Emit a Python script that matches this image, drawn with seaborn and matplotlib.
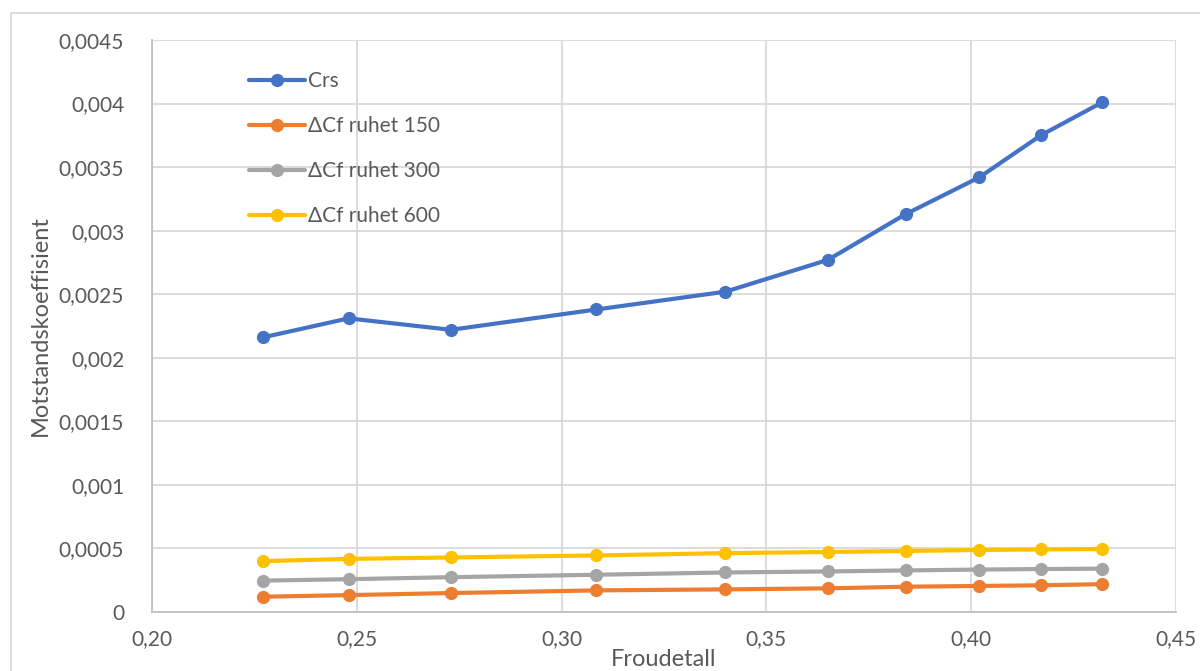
import matplotlib
matplotlib.use("Agg")
import matplotlib.pyplot as plt
from matplotlib.patches import Rectangle
from matplotlib.ticker import FuncFormatter, MultipleLocator
import seaborn as sns
import pandas as pd

# Froude numbers of the test runs
froude = [0.227, 0.248, 0.273, 0.3085, 0.340, 0.365, 0.384, 0.402, 0.417, 0.432]

# Residual resistance coefficient
crs = [0.00216, 0.00231, 0.00222, 0.00238, 0.00252, 0.00277, 0.00313, 0.00342, 0.00375, 0.00401]
# Roughness allowance for three roughness levels
dcf_150 = [0.000120, 0.000133, 0.000149, 0.000170, 0.000178, 0.000186, 0.000199, 0.000205, 0.000210, 0.000219]
dcf_300 = [0.000247, 0.000258, 0.000274, 0.000293, 0.000311, 0.000319, 0.000327, 0.000334, 0.000338, 0.000341]
dcf_600 = [0.000400, 0.000418, 0.000429, 0.000445, 0.000463, 0.000472, 0.000480, 0.000488, 0.000492, 0.000495]

series_names = ["Crs", "ΔCf ruhet 150", "ΔCf ruhet 300", "ΔCf ruhet 600"]
series_values = [crs, dcf_150, dcf_300, dcf_600]
colors = ["#4472C4", "#ED7D31", "#A5A5A5", "#FFC000"]

x_label = "Froudetall"
y_label = "Motstandskoeffisient"

rows = []
for name, vals in zip(series_names, series_values):
    for fr, v in zip(froude, vals):
        rows.append({"Froude": fr, "verdi": v, "serie": name})
df = pd.DataFrame(rows)

sns.set_theme(style="white")
plt.rcParams["font.family"] = ["Lato", "DejaVu Sans"]

fig = plt.figure(figsize=(12, 6.71), dpi=100)
ax = fig.add_axes([152 / 1200, 1 - 612 / 671, (1176 - 152) / 1200, (612 - 40) / 671])

sns.lineplot(
    data=df, x="Froude", y="verdi", hue="serie",
    hue_order=series_names, palette=dict(zip(series_names, colors)),
    marker="o", markersize=9.5, markeredgewidth=0, linewidth=3,
    sort=False, legend=False, ax=ax, zorder=3,
)

ax.set_xlim(0.20, 0.45)
ax.set_ylim(0, 0.0045)
ax.xaxis.set_major_locator(MultipleLocator(0.05))
ax.yaxis.set_major_locator(MultipleLocator(0.0005))


def fmt_y(v, pos):
    if abs(v) < 1e-12:
        return "0"
    s = f"{v:.4f}".rstrip("0")
    return s.replace(".", ",")


ax.xaxis.set_major_formatter(FuncFormatter(lambda v, p: f"{v:.2f}".replace(".", ",")))
ax.yaxis.set_major_formatter(FuncFormatter(fmt_y))

ax.grid(True, color="#D9D9D9", linewidth=1.3)
ax.set_axisbelow(True)
for side in ["top", "right"]:
    ax.spines[side].set_visible(False)
for side in ["left", "bottom"]:
    ax.spines[side].set_color("#BFBFBF")
    ax.spines[side].set_linewidth(1.3)

ax.tick_params(axis="both", length=0, labelsize=15, labelcolor="#595959")
ax.tick_params(axis="y", pad=20)
ax.tick_params(axis="x", pad=12)

ax.set_xlabel(x_label, fontsize=17, color="#595959", labelpad=0)
ax.set_ylabel(y_label, fontsize=17, color="#595959", labelpad=6)

handles = ax.get_lines()[: len(series_names)]
leg = ax.legend(
    handles, series_names, loc="upper left", bbox_to_anchor=(0.076, 0.978),
    frameon=False, fontsize=15, labelcolor="#595959",
    handlelength=2.7, handletextpad=0.15, labelspacing=1.2,
)

# Chart area border
fig.patches.append(Rectangle((11 / 1200, -0.05), 1.2, 1 - 13 / 671 + 0.05,
                             transform=fig.transFigure, fill=False,
                             edgecolor="#D9D9D9", linewidth=1.3, zorder=0))

fig.savefig("out.png", dpi=100)
